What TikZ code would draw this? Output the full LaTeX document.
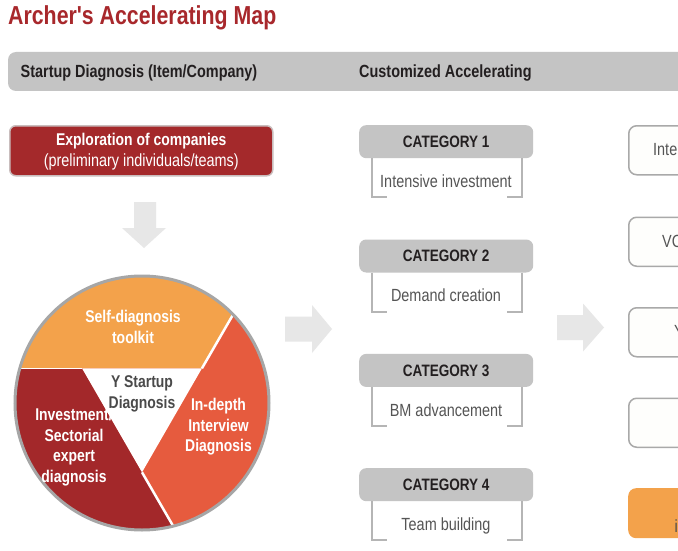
\documentclass[tikz,border=0pt]{standalone}
\usepackage{fontspec}
\setmainfont{Liberation Sans}
\newfontfamily\cf[FakeStretch=0.82]{Liberation Sans}
\usetikzlibrary{calc}
\definecolor{titlered}{HTML}{A8282C}
\definecolor{hdrgray}{HTML}{C4C4C4}
\definecolor{boxred}{HTML}{A4292B}
\definecolor{boxedge}{HTML}{C9BDBD}
\definecolor{orng}{HTML}{F3A24B}
\definecolor{coral}{HTML}{E65B3E}
\definecolor{dred}{HTML}{A3282A}
\definecolor{arrowgray}{HTML}{E7E7E7}
\definecolor{txtdark}{HTML}{231F20}
\definecolor{txtgray}{HTML}{555555}
\definecolor{ctrgray}{HTML}{4A4A4A}
\definecolor{brgray}{HTML}{B5B5B5}
\definecolor{rbdraw}{HTML}{A9A9A9}
\definecolor{rbfill}{HTML}{FEFEFC}
\definecolor{ringgray}{HTML}{A6A6A6}
\begin{document}
\begin{tikzpicture}[x=1pt,y=-1pt,
  titlefont/.style={font=\cf\bfseries\fontsize{26}{30}\selectfont, text=titlered, inner sep=0},
  hdrtext/.style={font=\cf\bfseries\fontsize{17.6}{21}\selectfont, text=txtdark, inner sep=0},
  cathdr/.style={fill=hdrgray, rounded corners=7pt, minimum width=174pt, minimum height=33pt, inner sep=0,
     font=\cf\bfseries\fontsize{16.5}{20}\selectfont, text=txtdark},
  desc/.style={font=\cf\fontsize{17.6}{21}\selectfont, text=txtgray, inner sep=0},
  bracket/.style={draw=brgray, line width=2pt},
  redbox/.style={fill=boxred, draw=boxedge, line width=1.5pt, rounded corners=6pt, text=white,
     minimum width=263pt, minimum height=50pt, inner sep=0, align=center,
     font=\cf\fontsize{17.6}{20.5}\selectfont},
  circtext/.style={font=\cf\bfseries\fontsize{17}{20.5}\selectfont, text=white, align=center, inner sep=0},
  rbox/.style={draw=rbdraw, fill=rbfill, line width=1.5pt, rounded corners=8pt, minimum width=110pt,
     minimum height=49pt, inner sep=0},
  obox/.style={fill=orng, rounded corners=8pt, minimum width=110pt, minimum height=50pt, inner sep=0},
  blockarrow/.style={fill=arrowgray}
]
\path[use as bounding box, clip] (0,0) rectangle (678,551);
\fill[white] (0,0) rectangle (678,551);

% title
\node[titlefont, anchor=base west] (title) at (8,25) {Archer's Accelerating Map};

% header bar
\fill[hdrgray, rounded corners=8pt] (8,52) rectangle (720,91);
\node[hdrtext, anchor=base west] (h1) at (20.5,77.5) {Startup Diagnosis (Item/Company)};
\node[hdrtext, anchor=base west] (h2) at (359,77.5) {Customized Accelerating};

% exploration box
\node[redbox, anchor=north west] (explore) at (9,125)
  {\rule{0pt}{14.5pt}{\bfseries\fontsize{17}{20.5}\selectfont Exploration of companies}\\
   (preliminary individuals/teams)};

% down arrow
\fill[blockarrow] (134,202) -- (156,202) -- (156,228) -- (166,228) -- (144,248) -- (122,228) -- (134,228) -- cycle;

% circle
\coordinate (C) at (142,403);
\coordinate (V1) at (82.1,368.4);
\coordinate (V2) at (201.9,368.4);
\coordinate (V3) at (142,472.3);
\coordinate (L) at (19.8,368.4);
\coordinate (P) at (233.1,314.5);
\coordinate (Q) at (173.2,526.1);
\begin{scope}
  \clip (C) circle[radius=127pt];
  \fill[coral] (C) circle[radius=130pt];
  \fill[orng] (-50,368.4) -- (V2) -- (295.5,206.7) -- (-50,206.7) -- cycle;
  \fill[dred] (-50,368.4) -- (V1) -- (264.3,683.8) -- (-50,683.8) -- cycle;
  \fill[white] (V1) -- (V2) -- (V3) -- cycle;
  \draw[white, line width=1.2pt] ($(L)+(-5,0)$) -- (V1);
  \draw[white, line width=2.5pt] (V2) -- ($(V2)!1.2!(P)$);
  \draw[white, line width=2.5pt] (V3) -- ($(V3)!1.2!(Q)$);
\end{scope}
\draw[ringgray, line width=3pt] (C) circle[radius=127pt];

\node[circtext] (self) at (133,327) {Self-diagnosis\\toolkit};
\node[circtext, text=ctrgray] (ystart) at (142,394) {Y Startup\\Diagnosis};
\node[circtext] (indepth) at (218.5,427) {In-depth\\Interview\\Diagnosis};
\node[circtext] (invest) at (74,447) {Investment/\\Sectorial\\expert\\diagnosis};

% right arrows
\fill[blockarrow] (285,316.5) -- (312,316.5) -- (312,305) -- (332,329) -- (312,353) -- (312,341.5) -- (285,341.5) -- cycle;
\fill[blockarrow] (557,315) -- (583,315) -- (583,303.5) -- (604,327.5) -- (583,351.5) -- (583,340) -- (557,340) -- cycle;

% categories
\foreach \i/\T/\txt in {1/125/Intensive investment, 2/239.3/Demand creation, 3/353.7/BM advancement, 4/468/Team building}{
  \node[cathdr, anchor=north west] (cat\i) at (359,\T) {CATEGORY \i};
  \draw[bracket] ($(cat\i.south west)+(13,0)$) -- ++(0,39) -- ++(15,0);
  \draw[bracket] ($(cat\i.south east)+(-11,0)$) -- ++(0,39) -- ++(-15,0);
  \node[desc, anchor=base] (desc\i) at (446,\T+62.5) {\txt};
}

% right column boxes
\node[rbox, anchor=north west] (r1) at (628,125) {};
\node[rbox, anchor=north west] (r2) at (628,216.5) {};
\node[rbox, anchor=north west] (r3) at (628,307) {};
\node[rbox, anchor=north west] (r4) at (628,397.5) {};
\node[obox, anchor=north west] (r5) at (628,488) {};
\node[desc, anchor=west] (r1t) at (653,149.5) {Inte};
\node[desc, anchor=west] (r2t) at (662,241) {VC};
\node[desc, anchor=west] (r3t) at (674,331.5) {Y};
\node[desc, text=ctrgray, anchor=base west] (r5t) at (674.5,532) {i};
\end{tikzpicture}
\end{document}
